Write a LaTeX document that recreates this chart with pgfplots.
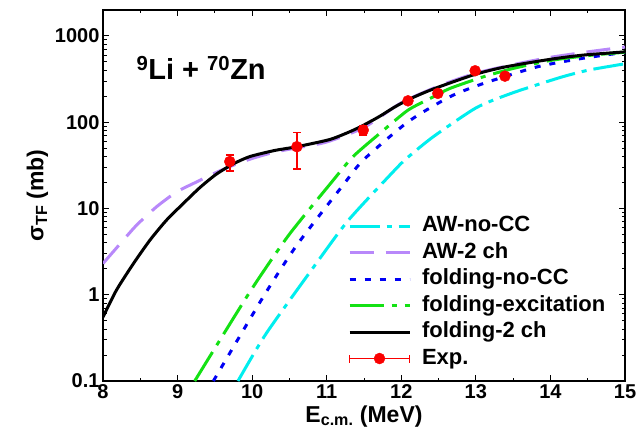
\documentclass[border=0pt]{standalone}
\usepackage{fontspec}
\setmainfont{Liberation Sans}
\usepackage{pgfplots}
\pgfplotsset{compat=1.18}

\definecolor{awnocc}{RGB}{0,238,238}
\definecolor{awtwo}{RGB}{184,136,250}
\definecolor{foldnocc}{RGB}{0,0,245}
\definecolor{foldexc}{RGB}{20,225,20}
\definecolor{expred}{RGB}{250,0,0}

\begin{document}
\begin{tikzpicture}
\begin{semilogyaxis}[
  scale only axis,
  width=522pt,
  height=371pt,
  xmin=8, xmax=15,
  ymin=0.1, ymax=2000,
  xtick={8,9,10,11,12,13,14,15},
  xticklabels={8,9,10,11,12,13,14,15},
  minor x tick num=1,
  ytick={0.1,1,10,100,1000},
  yticklabels={0.1,1,10,100,1000},
  tick style={black, line width=1pt},
  major tick length=6pt,
  minor tick length=3.5pt,
  axis line style={line width=1.6pt},
  tick label style={font=\fontsize{20}{24}\selectfont\bfseries},
  label style={font=\fontsize{23}{28}\selectfont\bfseries},
  xlabel={E\textsubscript{c.m.} (MeV)},
  ylabel={σ\textsubscript{TF} (mb)},
  legend style={
    draw=none, fill=none,
    at={(rel axis cs:0.469,0.454)}, anchor=north west,
    font=\fontsize{22}{26}\selectfont\bfseries,
    inner sep=0pt, row sep=0pt, column sep=8pt,
    nodes={inner sep=3pt, text height=16pt, text depth=4.5pt},
  },
  legend cell align=left,
  legend image code/.code={\draw[#1] (0pt,0pt) -- (60pt,0pt);},
]
% AW-no-CC
\addplot[awnocc, line width=3pt, smooth, tension=0.4, dash pattern=on 30pt off 7pt on 5pt off 7pt] coordinates {
  (9.81,0.1) (10.19,0.357) (10.86,2.31) (11.29,7.3) (11.89,26.6) (12.07,38)
  (12.43,68) (13.01,148) (13.5,220) (14.13,330) (14.5,400) (14.89,459) (15,475)
};
\addlegendentry{AW-no-CC}
% AW-2 ch
\addplot[awtwo, line width=3pt, smooth, tension=0.4, dash pattern=on 24pt off 12pt] coordinates {
  (8,2.3) (8.23,3.9) (8.45,6.4) (8.72,10.5) (8.99,15.6) (9.26,20.4) (9.52,26.2)
  (9.75,31.8) (10.0,38) (10.3,45) (10.6,50.5) (11.0,59) (11.5,87) (12.0,168)
  (12.5,262) (13.0,370) (13.5,465) (14.0,565) (14.5,654) (15,745)
};
\addlegendentry{AW-2 ch}
% folding-no-CC
\addplot[foldnocc, line width=3pt, smooth, tension=0.4, dash pattern=on 6pt off 9pt] coordinates {
  (9.48,0.1) (10.15,0.95) (10.60,3.77) (11.22,18.7) (11.49,36.4) (12.09,101)
  (12.65,197) (13.10,281) (13.82,438) (14.4,545) (14.89,627) (15,640)
};
\addlegendentry{folding-no-CC}
% folding-excitation
\addplot[foldexc, line width=3pt, smooth, tension=0.4, dash pattern=on 34pt off 8pt on 5pt off 8pt] coordinates {
  (9.23,0.1) (9.97,1.08) (10.49,4.9) (11.07,20.4) (11.35,39.7) (11.71,74)
  (12.09,138) (12.43,197) (12.65,246) (13.10,336) (13.5,420) (14.0,520)
  (14.5,592) (15,648)
};
\addlegendentry{folding-excitation}
% folding-2 ch
\addplot[black, line width=3pt, smooth, tension=0.4] coordinates {
  (8,0.55) (8.18,1.13) (8.41,2.31) (8.63,4.3) (8.85,7.3) (9.08,11.5) (9.30,17.5)
  (9.52,25) (9.75,33) (9.97,40) (10.3,47) (10.6,52) (11.04,63) (11.31,77.6)
  (11.49,92) (11.71,117) (11.9,148) (12.09,182) (12.3,219) (12.49,254) (12.99,359)
  (13.39,437) (13.99,535) (14.44,600) (15,654)
};
\addlegendentry{folding-2 ch}
% Exp.
\addplot[expred, only marks, mark=*, mark size=5.5pt, forget plot,
  error bars/.cd, y dir=both, y explicit,
  error bar style={line width=1.8pt, expred},
  error mark options={line width=1.8pt, mark size=4pt, rotate=90}] coordinates {
  (9.70,35) += (0,6.6) -= (0,7.6)
  (10.60,52) += (0,24) -= (0,23.4)
  (11.49,81) += (0,10) -= (0,10)
  (12.09,177) += (0,0) -= (0,0)
  (12.49,216) += (0,0) -= (0,0)
  (12.99,395) += (0,0) -= (0,0)
  (13.39,342) += (0,0) -= (0,0)
};
\addlegendimage{legend image code/.code={
  \draw[expred, line width=1.8pt] (0pt,0pt) -- (60pt,0pt);
  \draw[expred, line width=1.8pt] (0pt,-4pt) -- (0pt,4pt);
  \draw[expred, line width=1.8pt] (60pt,-4pt) -- (60pt,4pt);
  \fill[expred] (30pt,0pt) circle (5.5pt);
}}
\addlegendentry{Exp.}
\node[font=\fontsize{29}{34}\selectfont\bfseries] at (rel axis cs:0.188,0.844)
  {\textsuperscript{9}Li + \textsuperscript{70}Zn};
\end{semilogyaxis}
\path ([shift={(-103pt,-65pt)}]current axis.south west) rectangle ([shift={(16pt,10pt)}]current axis.north east);
\end{tikzpicture}
\end{document}
